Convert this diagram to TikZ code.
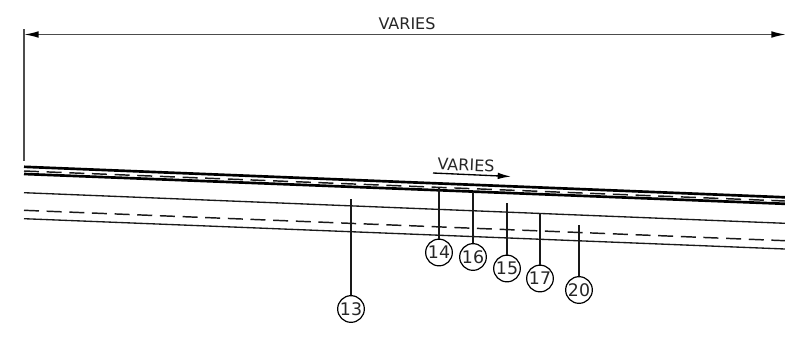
\documentclass[tikz,border=0pt]{standalone}
\usepackage{fontspec}
\setmainfont{DejaVu Sans}
\usetikzlibrary{arrows.meta}
\tikzset{
  thinline/.style={line width=1pt,black!90},
  thickline/.style={line width=2pt,black},
  dashline/.style={line width=1.1pt,black!90,dash pattern=on 11.25pt off 5.75pt},
  leader/.style={line width=1pt,black!90},
  dim/.style={line width=1.1pt,black!70},
  tag/.style={circle,draw,line width=0.9pt,minimum size=20pt,inner sep=0pt,font=\fontsize{13pt}{14pt}\selectfont,text=black!85},
  lbl/.style={inner sep=0pt,font=\fontsize{12pt}{14pt}\selectfont,text=black!85}
}
\begin{document}
\begin{tikzpicture}[x=0.75pt,y=-0.75pt]
\useasboundingbox (0,0) rectangle (785,354);
% road layers
\coordinate (a1) at (24,166.8); \coordinate (a2) at (785,197.3);
\coordinate (b1) at (24,171);   \coordinate (b2) at (785,201);
\coordinate (c1) at (24,174);   \coordinate (c2) at (785,203.8);
\coordinate (d1) at (24,192.7); \coordinate (d2) at (785,223.3);
\coordinate (e1) at (24,210.3); \coordinate (e2) at (785,240.7);
\coordinate (f1) at (24,218.7); \coordinate (f2) at (785,249);
\draw[thickline] (a1) -- (a2);
\draw[dashline] (b1) -- (b2);
\draw[thickline] (c1) -- (c2);
\draw[thinline] (d1) -- (d2);
\draw[dashline] (e1) -- (e2);
\draw[thinline] (f1) -- (f2);
% dimension
\coordinate (v1) at (24,29);  \coordinate (v2) at (24,161);
\coordinate (h1) at (24,34.5);\coordinate (h2) at (786,34.5);
\draw[dim] (v1) -- (v2);
\draw[dim,{Latex[length=11pt,width=5pt,black]}-{Latex[length=11pt,width=5pt,black]}] (h1) -- (h2);
\node[lbl] (top) at (407,24) {VARIES};
\node[lbl,rotate=-2.3] (mid) at (466,165) {VARIES};
\coordinate (m1) at (433,173); \coordinate (m2) at (511,176.5);
\draw[line width=1pt,-{Latex[length=10pt,width=5pt,black]}] (m1) -- (m2);
% tags
\node[tag] (n13) at (351,309) {13};
\node[tag] (n14) at (439,252.5) {14};
\node[tag] (n16) at (473,257) {16};
\node[tag] (n15) at (507,268.5) {15};
\node[tag] (n17) at (540,278.5) {17};
\node[tag] (n20) at (579,290) {20};
\coordinate (t13) at (351,199);
\coordinate (t14) at (439,187);
\coordinate (t16) at (473,192);
\coordinate (t15) at (507,203);
\coordinate (t17) at (540,213);
\coordinate (t20) at (579,225);
\draw[leader] (n13) -- (t13);
\draw[leader] (n14) -- (t14);
\draw[leader] (n16) -- (t16);
\draw[leader] (n15) -- (t15);
\draw[leader] (n17) -- (t17);
\draw[leader] (n20) -- (t20);
\end{tikzpicture}
\end{document}
